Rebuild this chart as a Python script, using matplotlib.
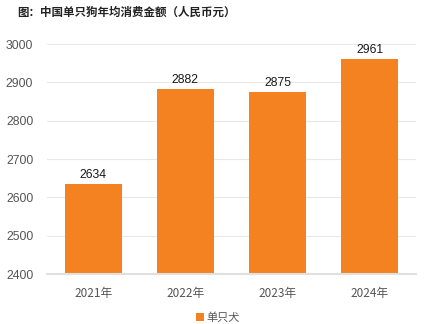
import matplotlib
matplotlib.use("Agg")
import matplotlib.pyplot as plt

plt.rcParams['font.family'] = ['Noto Sans CJK SC', 'DejaVu Sans']

categories = ["2021年", "2022年", "2023年", "2024年"]
values = [2634, 2882, 2875, 2961]
series_name = "单只犬"
title = "图：中国单只狗年均消费金额（人民币元）"
yticks = [2400, 2500, 2600, 2700, 2800, 2900, 3000]

bar_color = "#F58220"

fig = plt.figure(figsize=(4.36, 3.24), dpi=100)
ax = fig.add_axes([0.108, 0.154, 0.846, 0.71])

x = range(len(categories))
bars = ax.bar(x, values, width=0.62, color=bar_color, zorder=3, label=series_name)
for xi, v in zip(x, values):
    ax.text(xi, v + 9, f"{v}", ha="center", va="bottom", fontsize=8.8, color="#1a1a1a",
            family=['Liberation Sans', 'DejaVu Sans'], zorder=4)

ax.set_ylim(2400, 3000)
ax.set_xlim(-0.5, len(categories) - 0.5)
ax.set_yticks(yticks)
ax.set_yticklabels([str(t) for t in yticks], family=['Liberation Sans', 'DejaVu Sans'])
ax.set_xticks(list(x))
ax.set_xticklabels(categories)
ax.tick_params(axis="y", length=0, pad=10, labelsize=8.8, labelcolor="#555555")
ax.tick_params(axis="x", length=0, pad=9, labelsize=8.5, labelcolor="#555555")
ax.yaxis.grid(True, color="#e8e8e8", linewidth=0.8, zorder=0)
for s in ["top", "right", "left"]:
    ax.spines[s].set_visible(False)
ax.spines["bottom"].set_color("#e0e0e0")
ax.spines["bottom"].set_linewidth(1.5)
ax.spines["bottom"].set_zorder(5)

fig.text(0.039, 0.963, title, ha="left", va="center", fontsize=8.3, fontweight="bold", color="#222222")

fig.legend(handles=[bars], labels=[series_name], loc="center", bbox_to_anchor=(0.5, 0.02),
           frameon=False, fontsize=8, handlelength=0.7, handleheight=0.7, handletextpad=0.3,
           labelcolor="#555555")

fig.savefig("out.png", dpi=100)
